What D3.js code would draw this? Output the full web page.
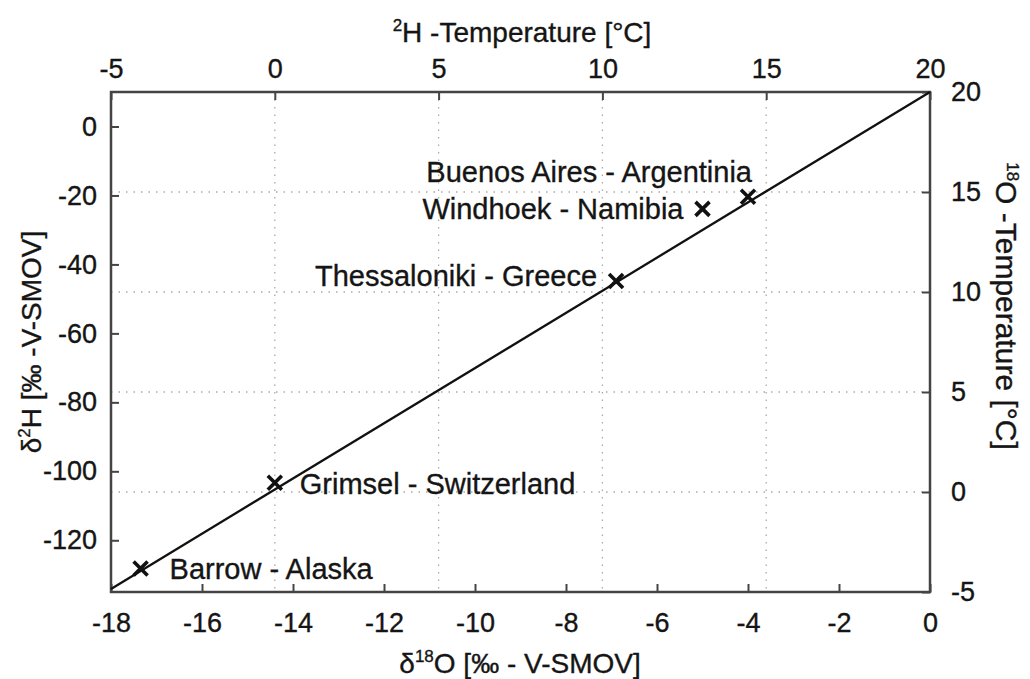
<!DOCTYPE html>
<html>
<head>
<meta charset="utf-8">
<script src="https://cdn.jsdelivr.net/npm/d3@7"></script>
<style>
  body { margin: 0; background: #fff; }
  svg text { font-family: "Liberation Sans", Arial, sans-serif; fill: #151515; stroke: #151515; stroke-width: 0.35; }
</style>
</head>
<body>
<svg id="chart" width="1030" height="679"></svg>
<script>
// station data
const stations = ["Barrow - Alaska", "Grimsel - Switzerland", "Thessaloniki - Greece", "Windhoek - Namibia", "Buenos Aires - Argentinia"];
const d18O = [-17.35, -14.4, -6.9, -5.0, -4.0];
const d2H = [-128.2, -103.3, -44.8, -23.9, -20.4];

// meteoric water line end points
const mwlX = [-18, 0];
const mwlY = [-134.1, 10];

// tick values
const bottomTicks = [-18, -16, -14, -12, -10, -8, -6, -4, -2, 0];
const leftTicks = [-120, -100, -80, -60, -40, -20, 0];
const topTicks = [-5, 0, 5, 10, 15, 20];
const rightTicks = [-5, 0, 5, 10, 15, 20];

// label placement next to each marker
const labelPlace = [
    { dx: 29, dy: 0, anchor: "start" },
    { dx: 25, dy: 1, anchor: "start" },
    { dx: -19, dy: -5, anchor: "end" },
    { dx: -19, dy: 0, anchor: "end" },
    { dx: 4, dy: -25, anchor: "end" }
];

const svg = d3.select("#chart");
const margin = { left: 111, right: 100, top: 92, bottom: 87 };
const W = 1030, H = 679;

const x = d3.scaleLinear().domain([-18, 0]).range([margin.left, W - margin.right]);
const y = d3.scaleLinear().domain([-135, 10]).range([H - margin.bottom, margin.top]);
const xTop = d3.scaleLinear().domain([-5, 20]).range([margin.left, W - margin.right]);
const yRight = d3.scaleLinear().domain([-5, 20]).range([H - margin.bottom, margin.top]);

const x0 = margin.left, x1 = W - margin.right, y0 = margin.top, y1 = H - margin.bottom;
const tickFont = 27;
const fmt = d => String(d); // plain hyphen minus like the original

// dotted grid from the temperature axes
const grid = svg.append("g").attr("class", "grid")
    .attr("stroke", "#aaa").attr("stroke-width", 1.3).attr("stroke-dasharray", "1.5,6");
grid.selectAll("line.v").data(topTicks.filter(d => d > -5 && d < 20)).join("line")
    .attr("x1", d => xTop(d)).attr("x2", d => xTop(d)).attr("y1", y0).attr("y2", y1);
grid.selectAll("line.h").data(rightTicks.filter(d => d > -5 && d < 20)).join("line")
    .attr("y1", d => yRight(d)).attr("y2", d => yRight(d)).attr("x1", x0).attr("x2", x1);

// axes, ticks pointing inward
function styleAxis(g) {
    g.select(".domain").remove();
    g.selectAll(".tick line").attr("stroke", "#444").attr("stroke-width", 2);
    g.selectAll(".tick text").attr("font-size", tickFont).attr("fill", "#151515")
        .attr("font-family", "Liberation Sans, Arial, sans-serif");
}
svg.append("g").attr("transform", `translate(0,${y1})`)
    .call(d3.axisBottom(x).tickValues(bottomTicks).tickSize(-8).tickPadding(21).tickFormat(fmt))
    .call(styleAxis);
svg.append("g").attr("transform", `translate(${x0},0)`)
    .call(d3.axisLeft(y).tickValues(leftTicks).tickSize(-8).tickPadding(14).tickFormat(fmt))
    .call(styleAxis);
svg.append("g").attr("transform", `translate(0,${y0})`)
    .call(d3.axisTop(xTop).tickValues(topTicks).tickSize(-8).tickPadding(14).tickFormat(fmt))
    .call(styleAxis);
svg.append("g").attr("transform", `translate(${x1},0)`)
    .call(d3.axisRight(yRight).tickValues(rightTicks).tickSize(-8).tickPadding(21).tickFormat(fmt))
    .call(styleAxis);

// frame
svg.append("rect").attr("x", x0).attr("y", y0).attr("width", x1 - x0).attr("height", y1 - y0)
    .attr("fill", "none").attr("stroke", "#444").attr("stroke-width", 2.5);

// water line
const line = d3.line().x(d => x(d[0])).y(d => y(d[1]));
svg.append("path").datum(d3.zip(mwlX, mwlY)).attr("d", line)
    .attr("fill", "none").attr("stroke", "#111").attr("stroke-width", 2.3);

// x markers
const pts = d3.range(stations.length);
const s = 7;
svg.append("g").selectAll("path").data(pts).join("path")
    .attr("d", i => {
        const px = x(d18O[i]), py = y(d2H[i]);
        return `M${px - s},${py - s}L${px + s},${py + s}M${px - s},${py + s}L${px + s},${py - s}`;
    })
    .attr("stroke", "#111").attr("stroke-width", 3.6);

// station labels
svg.append("g").selectAll("text").data(pts).join("text")
    .attr("x", i => x(d18O[i]) + labelPlace[i].dx)
    .attr("y", i => y(d2H[i]) + labelPlace[i].dy)
    .attr("dy", "0.35em")
    .attr("text-anchor", i => labelPlace[i].anchor)
    .attr("font-size", 29)
    .text(i => stations[i]);

// axis titles with superscripts (shift in px so the baseline comes back)
function title(text, pre, sup, rest) {
    text.append("tspan").text(pre);
    text.append("tspan").attr("font-size", 17).attr("dy", -11).text(sup);
    text.append("tspan").attr("dy", 11).text(rest);
}
svg.append("text").attr("x", 520).attr("y", 673).attr("text-anchor", "middle").attr("font-size", 28)
    .call(title, "δ", "18", "O [‰ - V-SMOV]");
svg.append("text").attr("x", 522).attr("y", 42).attr("text-anchor", "middle").attr("font-size", 28)
    .call(title, "", "2", "H -Temperature [°C]");
svg.append("text").attr("transform", "translate(41,342) rotate(-90)").attr("text-anchor", "middle").attr("font-size", 28)
    .call(title, "δ", "2", "H [‰ -V-SMOV]");
svg.append("text").attr("transform", "translate(996,306) rotate(90)").attr("text-anchor", "middle").attr("font-size", 30)
    .call(title, "", "18", "O -Temperature [°C]");
</script>
</body>
</html>
